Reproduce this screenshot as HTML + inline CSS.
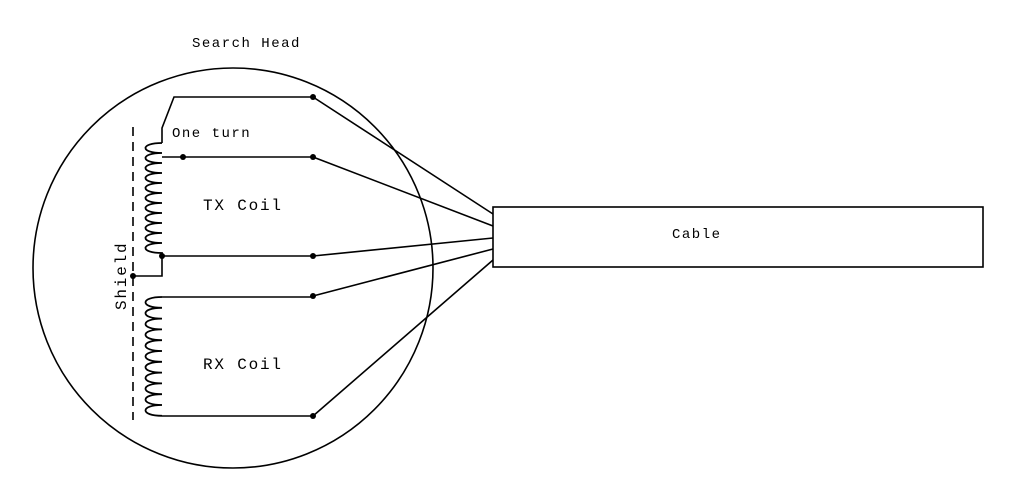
<!DOCTYPE html>
<html><head><style>body{margin:0;background:#fff}svg{display:block}text{font-family:"Liberation Mono",monospace;fill:#000}</style></head>
<body>
<svg width="1025" height="492" viewBox="0 0 1025 492" xmlns="http://www.w3.org/2000/svg">
<g fill="none" stroke="#000" stroke-width="1.6">
<circle cx="233" cy="268" r="200"/>
<rect x="493" y="207" width="490" height="60"/>
<line x1="133" y1="127" x2="133" y2="420" stroke-dasharray="9,6"/>
<polyline points="313,97 174,97 162,128 162,143"/>
<line x1="162" y1="157" x2="313" y2="157"/>
<polyline points="313,256 162,256 162,276 133,276"/>
<line x1="162" y1="297" x2="313" y2="297"/>
<line x1="162" y1="416" x2="313" y2="416"/>
<line x1="313" y1="97" x2="493" y2="214"/>
<line x1="313" y1="157" x2="493" y2="226"/>
<line x1="313" y1="256" x2="493" y2="238"/>
<line x1="313" y1="296" x2="493" y2="249"/>
<line x1="313" y1="416" x2="493" y2="260"/>
<path stroke-width="1.8" d="M162,143 c-22,0 -22,10 0,10 c-22,0 -22,10 0,10 c-22,0 -22,10 0,10 c-22,0 -22,10 0,10 c-22,0 -22,10 0,10 c-22,0 -22,10 0,10 c-22,0 -22,10 0,10 c-22,0 -22,10 0,10 c-22,0 -22,10 0,10 c-22,0 -22,10 0,10 c-22,0 -22,10 0,10 L162,256"/>
<path stroke-width="1.8" d="M162,297 c-22,0 -22,10.8 0,10.8 c-22,0 -22,10.8 0,10.8 c-22,0 -22,10.8 0,10.8 c-22,0 -22,10.8 0,10.8 c-22,0 -22,10.8 0,10.8 c-22,0 -22,10.8 0,10.8 c-22,0 -22,10.8 0,10.8 c-22,0 -22,10.8 0,10.8 c-22,0 -22,10.8 0,10.8 c-22,0 -22,10.8 0,10.8 c-22,0 -22,10.8 0,10.8"/>
</g>
<g fill="#000">
<circle cx="313" cy="97" r="3"/><circle cx="183" cy="157" r="3"/><circle cx="313" cy="157" r="3"/>
<circle cx="162" cy="256" r="3"/><circle cx="313" cy="256" r="3"/><circle cx="133" cy="276" r="3"/>
<circle cx="313" cy="296" r="3"/><circle cx="313" cy="416" r="3"/>
</g>
<text x="192" y="47" font-size="14" letter-spacing="1.5">Search Head</text>
<text x="172" y="137" font-size="14" letter-spacing="1.5">One turn</text>
<text x="203" y="210" font-size="16" letter-spacing="1.8">TX Coil</text>
<text x="203" y="369" font-size="16" letter-spacing="1.8">RX Coil</text>
<text x="672" y="238" font-size="14" letter-spacing="1.5">Cable</text>
<text transform="translate(126,310) rotate(-90)" font-size="16" letter-spacing="1.8">Shield</text>
</svg>
</body></html>
